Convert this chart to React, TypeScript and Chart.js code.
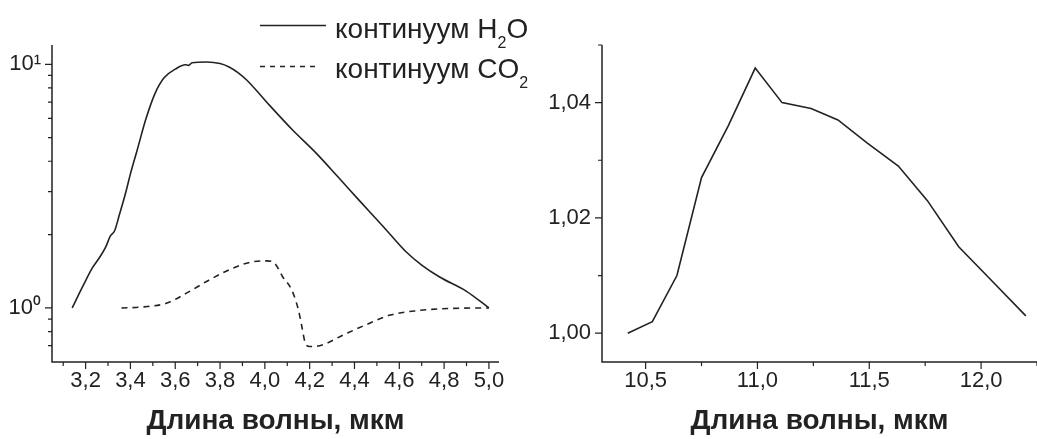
import React, { useEffect, useRef } from 'react';
import { Chart, registerables } from 'chart.js';

Chart.register(...registerables);

// ---------- data: left panel (log scale) ----------
const h2oX = [3.14, 3.19, 3.23, 3.26, 3.29, 3.31, 3.33, 3.35, 3.38, 3.40, 3.43, 3.47, 3.51, 3.55, 3.60, 3.645, 3.66, 3.675, 3.74, 3.80, 3.84, 3.88, 3.92, 4.02, 4.125, 4.23, 4.33, 4.42, 4.53, 4.63, 4.70, 4.78, 4.90, 5.00];
const h2oY = [1.00, 1.24, 1.46, 1.60, 1.78, 1.97, 2.08, 2.40, 3.00, 3.55, 4.44, 6.0, 7.6, 8.8, 9.55, 9.95, 9.9, 10.15, 10.22, 10.07, 9.75, 9.25, 8.6, 6.8, 5.36, 4.31, 3.42, 2.77, 2.15, 1.70, 1.50, 1.34, 1.17, 1.00];

const co2X = [3.36, 3.46, 3.56, 3.65, 3.75, 3.86, 3.95, 4.01, 4.045, 4.08, 4.12, 4.15, 4.165, 4.18, 4.20, 4.245, 4.35, 4.45, 4.56, 4.68, 4.82, 5.00];
const co2Y = [1.00, 1.01, 1.045, 1.15, 1.30, 1.46, 1.55, 1.56, 1.52, 1.34, 1.185, 0.98, 0.84, 0.72, 0.695, 0.70, 0.775, 0.852, 0.935, 0.975, 0.995, 1.00];

const leftXTicks = [3.2, 3.4, 3.6, 3.8, 4.0, 4.2, 4.4, 4.6, 4.8, 5.0];
const leftXMinor = [3.1, 3.3, 3.5, 3.7, 3.9, 4.1, 4.3, 4.5, 4.7, 4.9];
const leftYTicks = [1, 10];
const leftYLabels = ['10\u2070', '10\u00B9'];
const leftYMinor = [0.7, 0.8, 0.9, 2, 3, 4, 5, 6, 7, 8, 9];

// ---------- data: right panel ----------
const rightX = [10.42, 10.53, 10.64, 10.75, 10.87, 10.99, 11.11, 11.24, 11.36, 11.49, 11.63, 11.76, 11.90, 12.05, 12.20];
const rightY = [1.000, 1.002, 1.010, 1.027, 1.036, 1.046, 1.040, 1.039, 1.037, 1.033, 1.029, 1.023, 1.015, 1.009, 1.003];

const rightXTicks = [10.5, 11.0, 11.5, 12.0];
const rightXMinor = [10.75, 11.25, 11.75, 12.25];
const rightYTicks = [1.00, 1.02, 1.04];
const rightYMinor = [1.01, 1.03, 1.05];

const xTitle = 'Длина волны, мкм';
const legendH2O = 'континуум H';
const legendCO2 = 'континуум CO';

const FONT = "'Liberation Sans', Arial, Helvetica, sans-serif";
const INK = '#222';

const originTicks = {
  id: 'originTicks',
  afterDraw(chart: any, _args: any, opts: any) {
    const { ctx, chartArea: a } = chart;
    const x = chart.scales.x;
    const y = chart.scales.y;
    ctx.save();
    ctx.strokeStyle = INK;
    ctx.lineWidth = 1.5;
    ctx.beginPath();
    ctx.moveTo(a.left, a.top);
    ctx.lineTo(a.left, a.bottom);
    ctx.lineTo(a.right, a.bottom);
    ctx.stroke();
    ctx.lineWidth = 1.2;
    ctx.beginPath();
    const xs = (vals: number[], len: number) => vals.forEach((v) => {
      const p = x.getPixelForValue(v);
      if (p < a.left - 0.5 || p > a.right + 0.5) return;
      ctx.moveTo(p, a.bottom);
      ctx.lineTo(p, a.bottom + len);
    });
    const ys = (vals: number[], len: number) => vals.forEach((v) => {
      const p = y.getPixelForValue(v);
      if (p < a.top - 0.5 || p > a.bottom + 0.5) return;
      ctx.moveTo(a.left, p);
      ctx.lineTo(a.left - len, p);
    });
    xs(opts.xMajor, 7);
    xs(opts.xMinor, 4);
    ys(opts.yMajor, 7);
    ys(opts.yMinor, 4);
    ctx.stroke();
    ctx.restore();
  },
};

const tickFont = { family: FONT, size: 22 };
const titleCfg = {
  display: true,
  text: xTitle,
  color: INK,
  font: { family: FONT, size: 28, weight: 'bold', lineHeight: 1 },
  padding: { top: 0, bottom: 4 },
};
const noGrid = { display: false, drawTicks: false, tickLength: 0 };

export default function App() {
  const leftRef = useRef<HTMLCanvasElement>(null);
  const rightRef = useRef<HTMLCanvasElement>(null);

  useEffect(() => {
    const left = new Chart(leftRef.current as HTMLCanvasElement, {
      type: 'line',
      data: {
        datasets: [
          {
            label: 'континуум H2O',
            data: h2oX.map((v, i) => ({ x: v, y: h2oY[i] })),
            borderColor: INK,
            borderWidth: 1.6,
            pointRadius: 0,
            cubicInterpolationMode: 'monotone',
          },
          {
            label: 'континуум CO2',
            data: co2X.map((v, i) => ({ x: v, y: co2Y[i] })),
            borderColor: INK,
            borderWidth: 1.6,
            borderDash: [6, 5],
            pointRadius: 0,
            cubicInterpolationMode: 'monotone',
          },
        ],
      },
      options: {
        responsive: false,
        animation: false,
        layout: { padding: { top: 45, right: 21, left: 0, bottom: 0 } },
        plugins: {
          legend: { display: false },
          tooltip: { enabled: false },
          originTicks: { xMajor: leftXTicks, xMinor: leftXMinor, yMajor: leftYTicks, yMinor: leftYMinor },
        } as any,
        scales: {
          x: {
            type: 'linear',
            min: 3.05,
            max: 5.045,
            grid: noGrid,
            border: { display: false },
            afterBuildTicks: (s: any) => { s.ticks = leftXTicks.map((v) => ({ value: v })); },
            afterFit: (s: any) => { s.height = 77; },
            ticks: {
              autoSkip: false,
              maxRotation: 0,
              padding: 6,
              color: INK,
              font: tickFont,
              callback: (v: any) => Number(v).toFixed(1).replace('.', ','),
            },
            title: titleCfg as any,
          },
          y: {
            type: 'logarithmic',
            min: 0.6,
            max: 12,
            grid: noGrid,
            border: { display: false },
            afterBuildTicks: (s: any) => { s.ticks = leftYTicks.map((v) => ({ value: v })); },
            afterFit: (s: any) => { s.width = 52; },
            ticks: {
              autoSkip: false,
              padding: 11,
              color: INK,
              font: tickFont,
              callback: (_v: any, i: number) => leftYLabels[i],
            },
          },
        },
      } as any,
      plugins: [originTicks],
    });

    const right = new Chart(rightRef.current as HTMLCanvasElement, {
      type: 'line',
      data: {
        datasets: [
          {
            label: 'right',
            data: rightX.map((v, i) => ({ x: v, y: rightY[i] })),
            borderColor: INK,
            borderWidth: 1.6,
            pointRadius: 0,
            tension: 0,
          },
        ],
      },
      options: {
        responsive: false,
        animation: false,
        layout: { padding: { top: 45, right: 0, left: 0, bottom: 0 } },
        plugins: {
          legend: { display: false },
          tooltip: { enabled: false },
          originTicks: { xMajor: rightXTicks, xMinor: rightXMinor, yMajor: rightYTicks, yMinor: rightYMinor },
        } as any,
        scales: {
          x: {
            type: 'linear',
            min: 10.305,
            max: 12.25,
            grid: noGrid,
            border: { display: false },
            afterBuildTicks: (s: any) => { s.ticks = rightXTicks.map((v) => ({ value: v })); },
            afterFit: (s: any) => { s.height = 77; },
            ticks: {
              autoSkip: false,
              maxRotation: 0,
              padding: 6,
              color: INK,
              font: tickFont,
              callback: (v: any) => Number(v).toFixed(1).replace('.', ','),
            },
            title: titleCfg as any,
          },
          y: {
            type: 'linear',
            min: 0.995,
            max: 1.05,
            grid: noGrid,
            border: { display: false },
            afterBuildTicks: (s: any) => { s.ticks = rightYTicks.map((v) => ({ value: v })); },
            afterFit: (s: any) => { s.width = 82; },
            ticks: {
              autoSkip: false,
              padding: 11,
              color: INK,
              font: tickFont,
              callback: (v: any) => Number(v).toFixed(2).replace('.', ','),
            },
          },
        },
      } as any,
      plugins: [originTicks],
    });

    return () => {
      left.destroy();
      right.destroy();
    };
  }, []);

  const legendText: React.CSSProperties = {
    position: 'absolute',
    left: 335,
    fontFamily: FONT,
    fontSize: 28,
    lineHeight: '28px',
    color: INK,
    whiteSpace: 'nowrap',
  };
  const sub: React.CSSProperties = { fontSize: 16, position: 'relative', top: 10 };

  return (
    <div style={{ position: 'absolute', left: 0, top: 0, width: 1037, height: 439, background: '#fff', overflow: 'hidden' }}>
      <canvas ref={leftRef} width={520} height={439} style={{ position: 'absolute', left: 0, top: 0 }} />
      <canvas ref={rightRef} width={517} height={439} style={{ position: 'absolute', left: 520, top: 0 }} />
      <svg width={1037} height={439} style={{ position: 'absolute', left: 0, top: 0, pointerEvents: 'none' }}>
        <line x1={260} y1={25.5} x2={326} y2={25.5} stroke={INK} strokeWidth={1.5} />
        <line x1={260} y1={66.5} x2={320} y2={66.5} stroke={INK} strokeWidth={1.5} strokeDasharray="5 5" />
      </svg>
      <div style={{ ...legendText, top: 14.6 }}>
        {legendH2O}<span style={sub}>2</span>O
      </div>
      <div style={{ ...legendText, top: 54.6 }}>
        {legendCO2}<span style={sub}>2</span>
      </div>
    </div>
  );
}
